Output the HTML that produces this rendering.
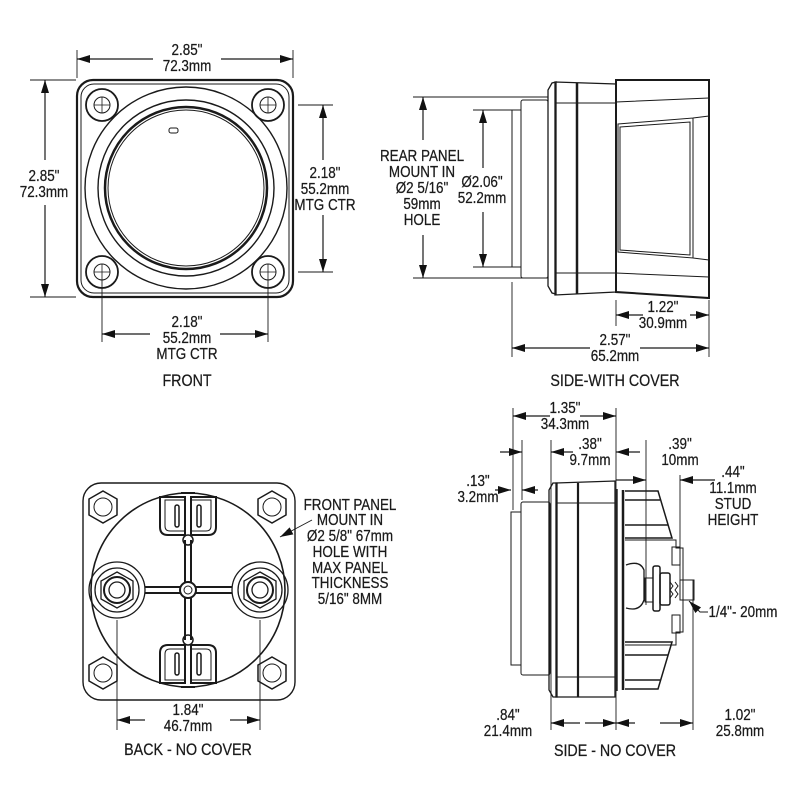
<!DOCTYPE html>
<html><head><meta charset="utf-8"><style>
html,body{margin:0;padding:0;background:#fff;}
svg{display:block}
text{font-family:"Liberation Sans Narrow","Liberation Sans",sans-serif;font-size:16px;fill:#1a1a1a;text-anchor:middle;stroke:#1a1a1a;stroke-width:.25;transform-box:fill-box;transform-origin:center;transform:scaleX(.84);}
.t{font-size:17px}
</style></head><body>
<svg width="800" height="800" viewBox="0 0 800 800" xmlns="http://www.w3.org/2000/svg">
<defs>
<path id="ar" d="M0 0L-13 -4L-13 4Z" fill="#111" stroke="none"/>
</defs>
<g stroke="#1a1a1a" fill="none" stroke-width="1">
<!-- FRONT -->
<rect x="77" y="80" width="216" height="217" rx="16" stroke-width="2.2"/>
<rect x="81" y="84" width="208" height="209" rx="13"/>
<circle cx="186" cy="188" r="101" stroke-width="1.4"/>
<circle cx="186" cy="188" r="88" stroke-width="1.4"/>
<circle cx="186" cy="188" r="81" stroke-width="2.5"/>
<circle cx="186" cy="188" r="78"/>
<rect x="169" y="128" width="9" height="5" rx="2"/>
<g stroke-width="1.8">
<circle cx="102" cy="105" r="16"/><circle cx="268" cy="105" r="16"/><circle cx="102" cy="272" r="16"/><circle cx="268" cy="272" r="16"/>
</g>
<circle cx="102" cy="105" r="8"/><circle cx="268" cy="105" r="8"/><circle cx="102" cy="272" r="8"/><circle cx="268" cy="272" r="8"/>
<path d="M94 105h16M102 97v16M260 105h16M268 97v16M94 272h16M102 264v16M260 272h16M268 264v16" stroke-width=".8"/>
<path d="M77 50V78M293 50V78M30 80H76M30 297H76M298 105H333M298 272H333M102 280V342M268 280V342" stroke-width=".9"/>
<path d="M153 59H77M221 59H293M45 160V80M45 205V297M323 160V105M323 215V272M150 334H102M220 334H268" stroke-width="1.2"/>

<!-- SIDE WITH COVER -->
<rect x="512" y="110" width="9" height="157"/>
<rect x="521" y="100" width="27" height="178" rx="2"/>
<path d="M552 83 L548 90 L548 286 L552 293 L556 294 L556 82 Z" stroke-width="1.3"/>
<path d="M555 82 L616 84 L616 292 L555 295 Z" stroke-width="1.3"/>
<path d="M577 83V294" stroke-width="2.5"/>
<path d="M556 103H616M556 273H616"/>
<path d="M616 80L709 80V298L616 292 Z" stroke-width="2"/>
<path d="M616 102L709 98M616 273L709 277"/>
<path d="M618 124L693 118V258L618 252Z M620 127L690 122V255L620 250Z M693 118L709 116M693 258L709 260"/>
<path d="M413 97H548M413 278H548M473 110H512M473 267H512M512 282V357M616 300V326M709 300V357" stroke-width=".9"/>
<path d="M423 140V97M423 235V278M483 168V110M483 212V267M643 315H616M690 315H709M590 348H512M640 348H709" stroke-width="1.2"/>

<!-- BACK -->
<rect x="83" y="483" width="212" height="217" rx="18" stroke-width="1.4"/>
<circle cx="188" cy="590" r="97" stroke-width="1.6"/>
<g stroke-width="1.5">
<polygon points="103,491 117,499 117,515 103,523 89,515 89,499"/>
<polygon points="272,491 286,499 286,515 272,523 258,515 258,499"/>
<polygon points="103,657 117,665 117,681 103,689 89,681 89,665"/>
<polygon points="272,657 286,665 286,681 272,689 258,681 258,665"/>
</g>
<circle cx="103" cy="507" r="9"/><circle cx="272" cy="507" r="9"/><circle cx="103" cy="673" r="9"/><circle cx="272" cy="673" r="9"/>
<g stroke-width="1.3">
<circle cx="117" cy="590" r="28"/><circle cx="117" cy="590" r="22"/><circle cx="117" cy="590" r="13" stroke-width="2"/><circle cx="117" cy="590" r="8"/>
<circle cx="260" cy="590" r="28"/><circle cx="260" cy="590" r="22"/><circle cx="260" cy="590" r="13" stroke-width="2"/><circle cx="260" cy="590" r="8"/>
<polygon points="117,572 133,581 133,599 117,608 101,599 101,581"/>
<polygon points="260,572 276,581 276,599 260,608 244,599 244,581"/>
</g>
<path d="M185 540V583M191 540V583M185 597V640M191 597V640M145 587H181M145 593H181M195 587H232M195 593H232" stroke-width="2"/>
<circle cx="188" cy="590" r="8" stroke-width="2"/><circle cx="188" cy="590" r="4"/>
<circle cx="188" cy="540" r="5" stroke-width="1.5"/><circle cx="188" cy="640" r="5" stroke-width="1.5"/>
<g stroke-width="2">
<path d="M160 497H185V535H168Q160 535 160 527Z"/><path d="M216 497H191V535H208Q216 535 216 527Z"/>
<path d="M160 683H185V645H168Q160 645 160 653Z"/><path d="M216 683H191V645H208Q216 645 216 653Z"/>
</g>
<path d="M165 500H185V531H170Q165 531 165 526ZM211 500H191V531H206Q211 531 211 526ZM165 680H185V649H170Q165 649 165 654ZM211 680H191V649H206Q211 649 211 654Z"/>
<rect x="175" y="505" width="4" height="22" rx="2" stroke-width="1.5"/><rect x="197" y="505" width="4" height="22" rx="2" stroke-width="1.5"/>
<rect x="175" y="653" width="4" height="22" rx="2" stroke-width="1.5"/><rect x="197" y="653" width="4" height="22" rx="2" stroke-width="1.5"/>
<path d="M181 493H195M181 687H195" stroke-width="2"/>
<path d="M117 620V730M260 620V730" stroke-width=".9"/>
<path d="M145 720H117M230 720H260" stroke-width="1.2"/>
<path d="M312 520L280 537" stroke-width=".9"/>

<!-- SIDE NO COVER -->
<rect x="511" y="512" width="10" height="153"/>
<rect x="521" y="502" width="29" height="173" rx="2"/>
<path d="M553 483L549 490V690L553 697L557 697V483Z" stroke-width="1.3"/>
<path d="M556 483L615 481V697L556 697Z" stroke-width="1.3"/>
<path d="M578 483V697" stroke-width="2.2"/>
<path d="M557 503H615M557 677H615"/>
<path d="M617 489V691" stroke-width="1.4"/>
<path d="M623 490V690" stroke-width="2.5"/>
<path d="M625 491H658L672 538H625M625 500H660M625 525H668" stroke-width="1.5"/>
<path d="M625 689H658L672 642H625M625 680H660M625 655H668" stroke-width="1.5"/>
<path d="M625 540H676V548H683V632H676V645H625"/>
<rect x="672" y="547" width="8" height="18"/><rect x="672" y="615" width="8" height="18"/>
<path d="M626 565Q640 560 644 570V600Q640 612 626 608" stroke-width="1.3"/>
<rect x="645" y="578" width="8" height="24"/>
<rect x="653" y="566" width="7" height="45" rx="2" stroke-width="1.5"/>
<rect x="660" y="573" width="10" height="32" rx="2" stroke-width="1.5"/>
<path d="M670 582L673 586L670 590L673 594L670 598M675 582L678 586L675 590L678 594L675 598" />
<rect x="680" y="580" width="14" height="20"/>
<path d="M513 408V510M522 440V500M551 440V730M616 408V730M646 440V605M680 475V585M693 580V730" stroke-width=".9"/>
<path d="M550 416H513M580 416H616M500 452H522M573 452H551M640 452H616M616 480H646M715 480H680M495 490H511M538 490H522M580 723H551M585 723H616M635 723H616M660 723H693" stroke-width="1.2"/>
<path d="M708 612H700L689 601" stroke-width=".9"/>
</g>
<g>
<use href="#ar" transform="translate(77,59) rotate(180)"/><use href="#ar" transform="translate(293,59)"/>
<use href="#ar" transform="translate(45,80) rotate(-90)"/><use href="#ar" transform="translate(45,297) rotate(90)"/>
<use href="#ar" transform="translate(323,105) rotate(-90)"/><use href="#ar" transform="translate(323,272) rotate(90)"/>
<use href="#ar" transform="translate(102,334) rotate(180)"/><use href="#ar" transform="translate(268,334)"/>
<use href="#ar" transform="translate(423,97) rotate(-90)"/><use href="#ar" transform="translate(423,278) rotate(90)"/>
<use href="#ar" transform="translate(483,110) rotate(-90)"/><use href="#ar" transform="translate(483,267) rotate(90)"/>
<use href="#ar" transform="translate(616,315) rotate(180)"/><use href="#ar" transform="translate(709,315)"/>
<use href="#ar" transform="translate(512,348) rotate(180)"/><use href="#ar" transform="translate(709,348)"/>
<use href="#ar" transform="translate(117,720) rotate(180)"/><use href="#ar" transform="translate(260,720)"/>
<use href="#ar" transform="translate(280,537) rotate(152)"/>
<use href="#ar" transform="translate(513,416) rotate(180)"/><use href="#ar" transform="translate(616,416)"/>
<use href="#ar" transform="translate(522,452)"/><use href="#ar" transform="translate(551,452) rotate(180)"/>
<use href="#ar" transform="translate(616,452) rotate(180)"/>
<use href="#ar" transform="translate(646,480)"/><use href="#ar" transform="translate(680,480) rotate(180)"/>
<use href="#ar" transform="translate(511,490)"/><use href="#ar" transform="translate(522,490) rotate(180)"/>
<use href="#ar" transform="translate(551,723) rotate(180)"/><use href="#ar" transform="translate(616,723)"/>
<use href="#ar" transform="translate(616,723) rotate(180)"/><use href="#ar" transform="translate(693,723)"/>
<use href="#ar" transform="translate(689,601) rotate(-135)"/>
</g>
<g>
<text x="187" y="55">2.85"</text><text x="187" y="71">72.3mm</text>
<text x="44" y="181">2.85"</text><text x="44" y="197">72.3mm</text>
<text x="325" y="178">2.18"</text><text x="325" y="194">55.2mm</text><text x="325" y="210">MTG CTR</text>
<text x="187" y="327">2.18"</text><text x="187" y="343">55.2mm</text><text x="187" y="359">MTG CTR</text>
<text class="t" x="187" y="386">FRONT</text>
<text x="422" y="161">REAR PANEL</text><text x="422" y="177">MOUNT IN</text><text x="422" y="193">Ø2 5/16"</text><text x="422" y="209">59mm</text><text x="422" y="225">HOLE</text>
<text x="482" y="187">Ø2.06"</text><text x="482" y="203">52.2mm</text>
<text x="663" y="312">1.22"</text><text x="663" y="328">30.9mm</text>
<text x="615" y="345">2.57"</text><text x="615" y="361">65.2mm</text>
<text class="t" x="615" y="386">SIDE-WITH COVER</text>
<text x="350" y="510">FRONT PANEL</text><text x="350" y="525">MOUNT IN</text><text x="350" y="541">Ø2 5/8"  67mm</text><text x="350" y="557">HOLE WITH</text><text x="350" y="573">MAX PANEL</text><text x="350" y="588">THICKNESS</text><text x="350" y="604">5/16" 8MM</text>
<text x="188" y="715">1.84"</text><text x="188" y="731">46.7mm</text>
<text class="t" x="188" y="755">BACK - NO COVER</text>
<text x="565" y="413">1.35"</text><text x="565" y="429">34.3mm</text>
<text x="590" y="449">.38"</text><text x="590" y="465">9.7mm</text>
<text x="680" y="449">.39"</text><text x="680" y="465">10mm</text>
<text x="733" y="477">.44"</text><text x="733" y="493">11.1mm</text><text x="733" y="509">STUD</text><text x="733" y="525">HEIGHT</text>
<text x="478" y="486">.13"</text><text x="478" y="502">3.2mm</text>
<text x="743" y="617">1/4"- 20mm</text>
<text x="508" y="720">.84"</text><text x="508" y="736">21.4mm</text>
<text x="740" y="720">1.02"</text><text x="740" y="736">25.8mm</text>
<text class="t" x="615" y="756">SIDE - NO COVER</text>
</g>
</svg>
</body></html>
